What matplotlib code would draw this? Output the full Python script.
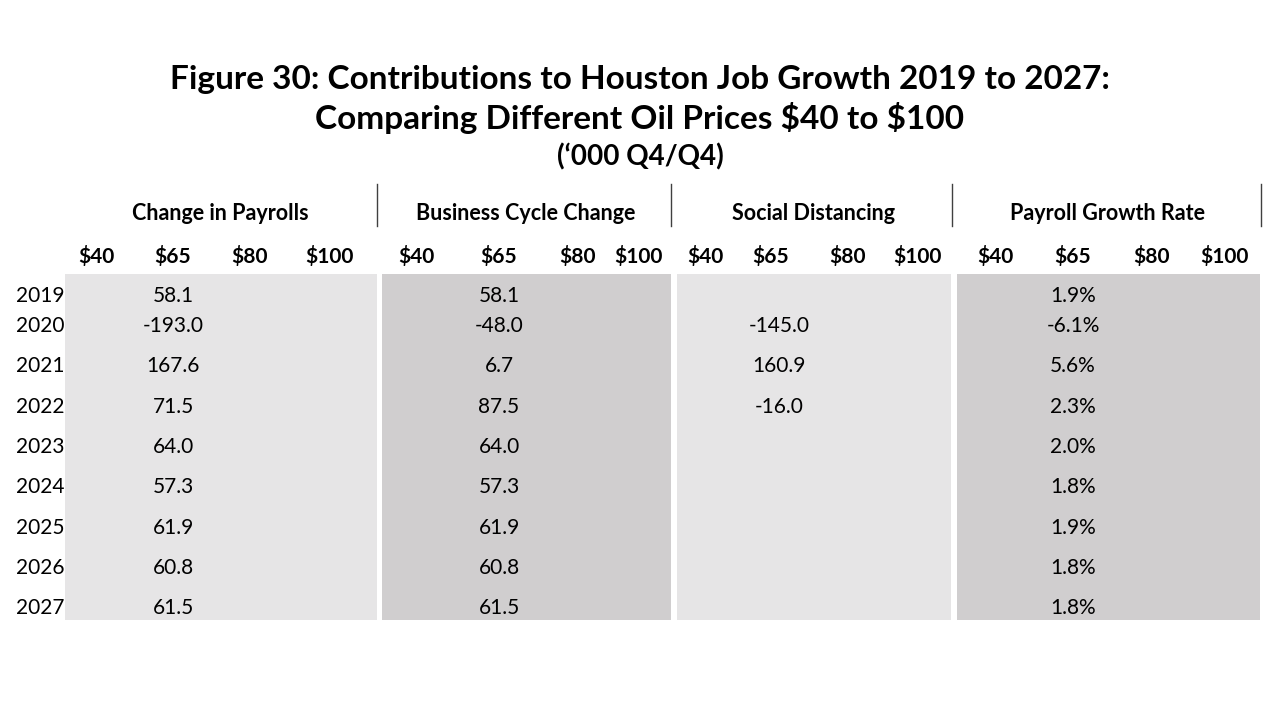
import matplotlib.pyplot as plt
from matplotlib.patches import Rectangle

plt.rcParams['font.family'] = ['Lato', 'DejaVu Sans']
plt.rcParams['text.parse_math'] = False

# datos de la tabla
anios = ['2019', '2020', '2021', '2022', '2023', '2024', '2025', '2026', '2027']
precios = ['$40', '$65', '$80', '$100']
grupos = ['Change in Payrolls', 'Business Cycle Change', 'Social Distancing', 'Payroll Growth Rate']
cambio_nomina = [58.1, -193.0, 167.6, 71.5, 64.0, 57.3, 61.9, 60.8, 61.5]
ciclo_negocios = [58.1, -48.0, 6.7, 87.5, 64.0, 57.3, 61.9, 60.8, 61.5]
distanciamiento = [None, -145.0, 160.9, -16.0, None, None, None, None, None]
tasa_crecimiento = [1.9, -6.1, 5.6, 2.3, 2.0, 1.8, 1.9, 1.8, 1.8]

# layout en pixeles
paneles = [(65, 377, '#E6E5E6'), (382, 671, '#D0CECF'), (677, 951, '#E6E5E6'), (957, 1260, '#D0CECF')]
sep_x = [377, 671, 952, 1261]
grupo_x = [220, 526, 814, 1108]
precio_x = [[96, 173, 249, 329], [416, 499, 577, 638], [705, 771, 848, 917], [995, 1073, 1151, 1224]]
valor_x = [173, 499, 779, 1073]
fila_y = [296, 326, 366, 407, 447, 487, 528, 568, 608]

fig = plt.figure(figsize=(12.8, 7.2), dpi=100)
ax = fig.add_axes([0, 0, 1, 1])
ax.set_xlim(0, 1280)
ax.set_ylim(720, 0)
ax.axis('off')

ax.text(640, 80, 'Figure 30: Contributions to Houston Job Growth 2019 to 2027:',
        ha='center', va='center', fontsize=24, fontweight='bold')
ax.text(640, 118, 'Comparing Different Oil Prices $40 to $100',
        ha='center', va='center', fontsize=24, fontweight='bold')
ax.text(640, 157, '(\u2018000 Q4/Q4)', ha='center', va='center', fontsize=20, fontweight='bold')

for (x0, x1, c) in paneles:
    ax.add_patch(Rectangle((x0, 274), x1 - x0, 346, facecolor=c, edgecolor='none'))

for x in sep_x:
    ax.plot([x, x], [184, 226], color='#404040', lw=1)

for i, g in enumerate(grupos):
    ax.text(grupo_x[i], 214, g, ha='center', va='center', fontsize=15.5, fontweight='bold')
    for j, p in enumerate(precios):
        ax.text(precio_x[i][j], 256, p, ha='center', va='center', fontsize=15, fontweight='bold')

columnas = [cambio_nomina, ciclo_negocios, distanciamiento, tasa_crecimiento]
for k, anio in enumerate(anios):
    y = fila_y[k]
    ax.text(16, y, anio, ha='left', va='center', fontsize=15)
    for i, col in enumerate(columnas):
        v = col[k]
        if v is None:
            continue
        s = f'{v:.1f}%' if i == 3 else f'{v:.1f}'
        ax.text(valor_x[i], y, s, ha='center', va='center', fontsize=15)

fig.savefig('out.png', dpi=100)
